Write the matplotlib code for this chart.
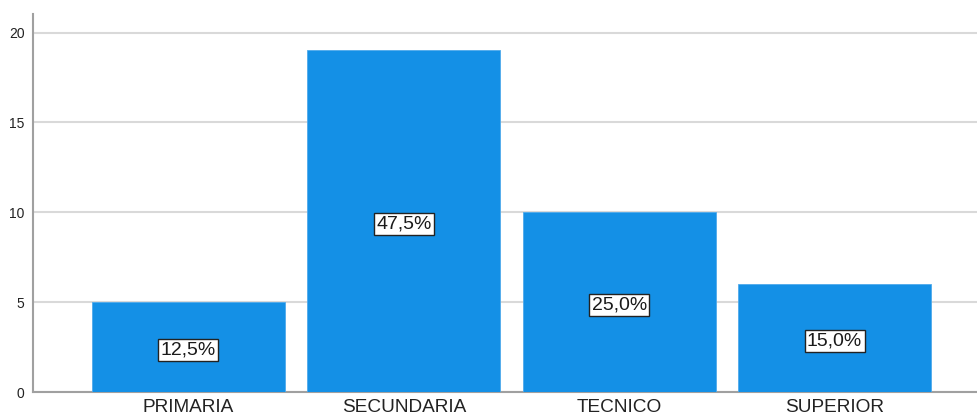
import numpy as np
import matplotlib
matplotlib.use('Agg')
import matplotlib.pyplot as plt

plt.rcParams['font.family'] = ['Liberation Sans', 'DejaVu Sans']

categories = ['PRIMARIA', 'SECUNDARIA', 'TECNICO', 'SUPERIOR']
counts = [5, 19, 10, 6]
yticks = [0, 5, 10, 15, 20]

total = sum(counts)
pct_labels = [f"{c / total * 100:.1f}%".replace('.', ',') for c in counts]

fig = plt.figure(figsize=(9.78, 4.15), dpi=100)
# axes run a bit past the right edge, as in the cropped original
ax = fig.add_axes([33 / 978, 1 - 392 / 415, (990 - 33) / 978, (392 - 14) / 415])

x = np.arange(len(categories))
ax.bar(x, counts, width=0.897, color='#1490E6', edgecolor='#4FAAEB', linewidth=0.6, zorder=3)

for xi, c, lab in zip(x, counts, pct_labels):
    ax.annotate(lab, (xi, c / 2), xytext=(0, -2.2), textcoords='offset points',
                ha='center', va='center', fontsize=14, color='#1a1a1a', zorder=4,
                bbox=dict(boxstyle='square,pad=0.12', facecolor='white', edgecolor='#222222', linewidth=1))

ax.set_xlim(-0.7216, 3.7216)
ax.set_ylim(0, 21.03)
ax.set_yticks(yticks)
ax.set_xticks(x)
ax.set_xticklabels(categories, fontsize=13.7, color='#222222')
ax.tick_params(axis='y', length=0, pad=6, labelsize=10, labelcolor='#222222')
ax.tick_params(axis='x', length=0, pad=5)

ax.grid(axis='y', color='#D9D9D9', linewidth=1.5, zorder=0)
for side in ['top', 'right']:
    ax.spines[side].set_visible(False)
ax.spines['left'].set_color('#A0A0A0')
ax.spines['left'].set_linewidth(1.5)
ax.spines['bottom'].set_color('#A0A0A0')
ax.spines['bottom'].set_linewidth(1.5)

fig.savefig('out.png', dpi=100)
